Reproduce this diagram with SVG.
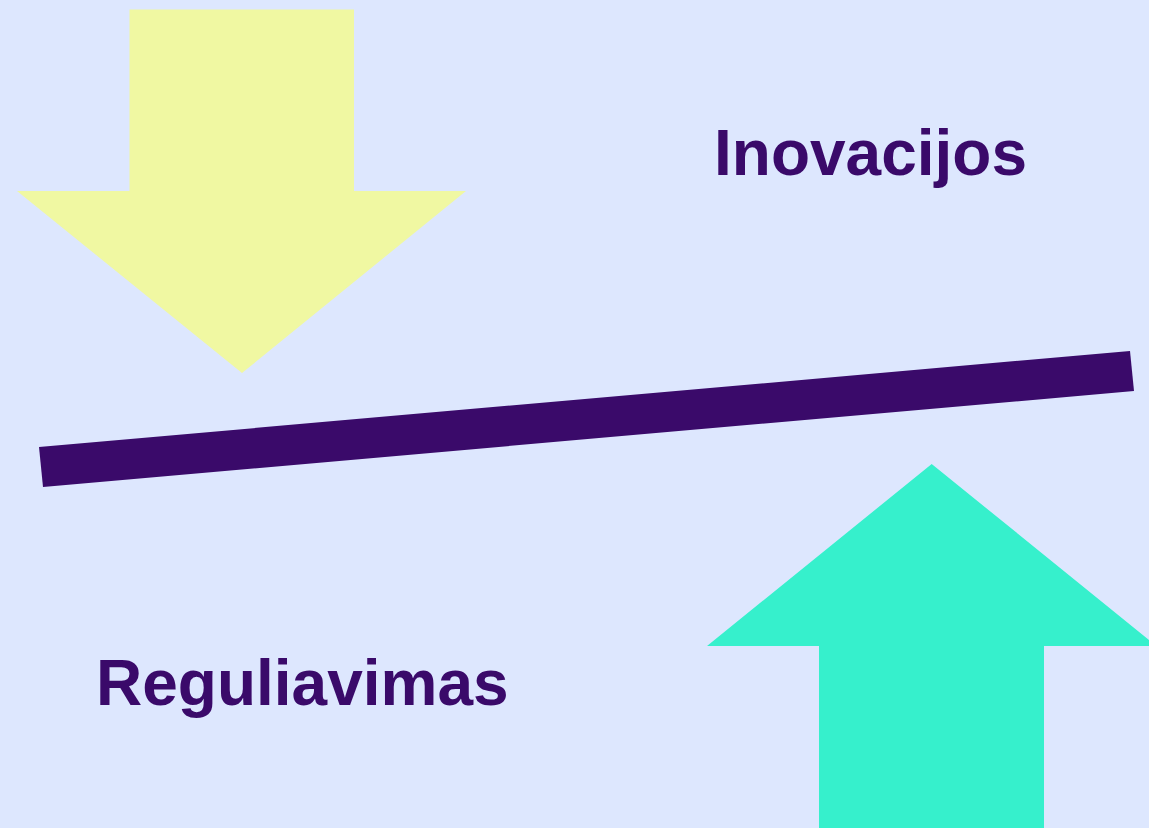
<svg xmlns="http://www.w3.org/2000/svg" width="1149" height="828" viewBox="0 0 1149 828">
<style>
.lbl{font-family:"Liberation Sans",Arial,sans-serif;font-weight:bold;font-size:64px;fill:#3A0A6A}
</style>
<rect x="0" y="0" width="1149" height="828" fill="#DDE7FE"/>
<g id="arrow-down">
<polygon points="129.5,9.5 354,9.5 354,191 466,191 242,373 17,191 129.5,191" fill="#F0F8A2"/>
</g>
<g id="arrow-up">
<polygon points="931.7,464 1156.5,646 1044,646 1044,830 819,830 819,646 707,646" fill="#36F0CC"/>
</g>
<g id="beam">
<polygon points="39,447 1130,351 1134,391 43,487" fill="#3A0A6A"/>
</g>
<g id="label-inovacijos">
<text class="lbl" x="714" y="175">Inovacijos</text>
</g>
<g id="label-reguliavimas">
<text class="lbl" x="96" y="705">Reguliavimas</text>
</g>
</svg>
